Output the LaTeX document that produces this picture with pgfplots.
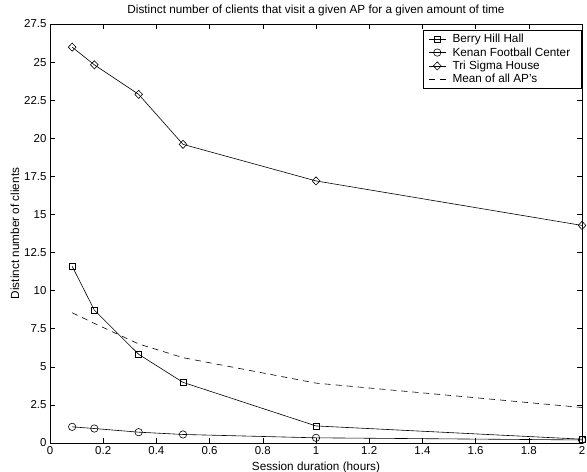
\documentclass[border=0pt]{standalone}
\usepackage{pgfplots}
\pgfplotsset{compat=1.18}
\usepackage{fontspec}
\setmainfont{Liberation Sans}
\begin{document}
\begin{tikzpicture}[x=1bp,y=1bp]
\useasboundingbox (0,0) rectangle (587,472);
\begin{axis}[
  at={(50bp,29bp)}, anchor=south west,
  scale only axis, width=532bp, height=419bp,
  xmin=0, xmax=2, ymin=0, ymax=27.5,
  xtick={0,0.2,...,2.01}, ytick={0,2.5,...,27.6},
  tick align=inside, xtick pos=both, ytick pos=both,
  major tick length=5bp,
  axis line style={line width=0.8bp},
  tick style={line width=0.5bp, black},
  /pgf/number format/assume math mode=true,
  xticklabel style={/pgf/number format/fixed, /pgf/number format/precision=1},
  yticklabel style={/pgf/number format/fixed, /pgf/number format/precision=1},
  ticklabel style={font=\fontsize{11.5}{13}\selectfont},
  title={Distinct number of clients that visit a given AP for a given amount of time},
  title style={font=\fontsize{11.8}{13}\selectfont, at={(0.5,1)}, anchor=south, yshift=-1.5bp},
  xlabel={Session duration (hours)},
  ylabel={Distinct number of clients},
  label style={font=\fontsize{11.8}{13}\selectfont},
  xlabel style={at={(axis description cs:0.5,0)}, anchor=center, yshift=-24bp},
  ylabel style={at={(axis description cs:-0.0658,0.5)}, anchor=center},
  legend style={at={(1,0.986)}, anchor=north east, draw=black, line width=0.6bp,
    font=\fontsize{11.8}{13}\selectfont, inner xsep=5bp, inner ysep=2bp, row sep=-0.6bp,
    nodes={inner xsep=6.5bp},
    legend cell align=left},
  legend image post style={line width=0.6bp},
  every axis plot/.append style={black, line width=0.6bp},
]
\addplot[mark=square, mark size=3bp] coordinates {
 (0.0833,11.6) (0.1667,8.72) (0.3333,5.82) (0.5,3.98) (1,1.12) (2,0.25)};
\addlegendentry{Berry Hill Hall}
\addplot[mark=o, mark size=3.7bp] coordinates {
 (0.0833,1.06) (0.1667,0.95) (0.3333,0.71) (0.5,0.56) (1,0.34) (2,0.2)};
\addlegendentry{Kenan Football Center}
\addplot[mark=diamond, mark size=4.1bp, mark options={xscale=1.25}] coordinates {
 (0.0833,25.98) (0.1667,24.82) (0.3333,22.88) (0.5,19.6) (1,17.2) (2,14.28)};
\addlegendentry{Tri Sigma House}
\addplot[dash pattern=on 6bp off 5bp] coordinates {
 (0.0833,8.55) (0.1667,7.85) (0.3333,6.5) (0.5,5.6) (1,3.93) (2,2.33)};
\addlegendentry{Mean of all AP's}
\end{axis}
\end{tikzpicture}
\end{document}
